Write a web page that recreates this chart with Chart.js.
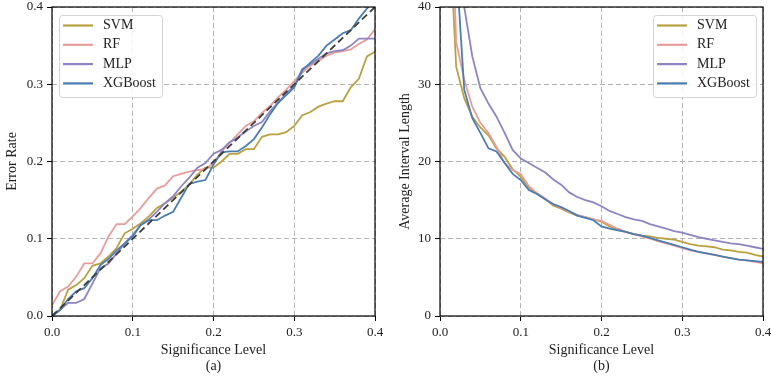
<!DOCTYPE html>
<html>
<head>
<meta charset="utf-8">
<script src="https://cdn.jsdelivr.net/npm/chart.js@4.4.0/dist/chart.umd.min.js"></script>
<style>
  body { margin: 0; background: #fff; }
  .box { position: absolute; top: 0; height: 376px; }
</style>
</head>
<body>
<div class="box" style="left:0;width:385px"><canvas id="chart-a"></canvas></div>
<div class="box" style="left:385px;width:386px"><canvas id="chart-b"></canvas></div>
<script>
const sigLevels = [0.00, 0.01, 0.02, 0.03, 0.04, 0.05, 0.06, 0.07, 0.08, 0.09,
    0.10, 0.11, 0.12, 0.13, 0.14, 0.15, 0.16, 0.17, 0.18, 0.19,
    0.20, 0.21, 0.22, 0.23, 0.24, 0.25, 0.26, 0.27, 0.28, 0.29,
    0.30, 0.31, 0.32, 0.33, 0.34, 0.35, 0.36, 0.37, 0.38, 0.39, 0.40];
const modelNames = ['SVM', 'RF', 'MLP', 'XGBoost'];
const modelColors = ['#b9a142', '#e89d9b', '#8e84c2', '#4b7db0'];

// (a) error rate
const errSVM = [0, 0.008, 0.034, 0.040, 0.049, 0.065, 0.068, 0.077, 0.088, 0.107,
    0.113, 0.120, 0.129, 0.140, 0.146, 0.153, 0.161, 0.170, 0.183, 0.192,
    0.192, 0.200, 0.210, 0.210, 0.216, 0.216, 0.232, 0.235, 0.235, 0.238,
    0.246, 0.260, 0.264, 0.271, 0.275, 0.278, 0.278, 0.296, 0.307, 0.336, 0.342];
const errRF = [0.014, 0.032, 0.038, 0.051, 0.068, 0.068, 0.081, 0.103, 0.119, 0.119,
    0.129, 0.140, 0.153, 0.165, 0.169, 0.181, 0.184, 0.187, 0.189, 0.190,
    0.198, 0.213, 0.224, 0.235, 0.246, 0.252, 0.263, 0.272, 0.283, 0.293,
    0.304, 0.315, 0.324, 0.330, 0.337, 0.341, 0.343, 0.345, 0.352, 0.358, 0.371];
const errMLP = [0, 0.008, 0.017, 0.017, 0.022, 0.042, 0.062, 0.068, 0.081, 0.094,
    0.105, 0.118, 0.125, 0.135, 0.146, 0.155, 0.168, 0.179, 0.192, 0.198,
    0.210, 0.215, 0.225, 0.231, 0.239, 0.246, 0.251, 0.265, 0.276, 0.288,
    0.298, 0.320, 0.326, 0.333, 0.340, 0.343, 0.344, 0.350, 0.359, 0.359, 0.359];
const errXGB = [0, 0.008, 0.022, 0.032, 0.036, 0.049, 0.066, 0.074, 0.085, 0.094,
    0.103, 0.118, 0.124, 0.124, 0.130, 0.135, 0.153, 0.171, 0.174, 0.176,
    0.196, 0.212, 0.213, 0.213, 0.220, 0.229, 0.244, 0.261, 0.276, 0.286,
    0.296, 0.318, 0.328, 0.337, 0.350, 0.358, 0.366, 0.370, 0.385, 0.398, 0.410];
const idealLine = [0, 0.4];

// (b) average interval length (infinite at 0)
const lenSVM = [null, 54, 32.3, 28.2, 25.8, 24.4, 23.4, 21.7, 20.6, 19.0,
    18.0, 16.6, 15.9, 15.2, 14.3, 13.9, 13.4, 13.0, 12.8, 12.5,
    12.2, 11.6, 11.2, 10.9, 10.6, 10.4, 10.3, 10.1, 10.0, 9.9,
    9.6, 9.3, 9.1, 9.0, 8.9, 8.6, 8.5, 8.3, 8.2, 7.9, 7.7];
const lenRF = [null, 68, 35.5, 30.6, 27.1, 25.0, 23.7, 21.9, 19.8, 18.9,
    18.4, 16.8, 15.9, 15.2, 14.5, 14.0, 13.5, 13.1, 12.8, 12.5,
    12.3, 11.8, 11.3, 10.9, 10.6, 10.3, 10.0, 9.7, 9.4, 9.1,
    8.8, 8.5, 8.3, 8.1, 7.9, 7.7, 7.5, 7.3, 7.2, 7.0, 6.8];
const lenMLP = [null, 90, 55, 40.0, 33.6, 29.5, 27.5, 25.8, 23.7, 21.5,
    20.4, 19.8, 19.2, 18.6, 17.7, 17.0, 16.0, 15.4, 15.0, 14.7,
    14.2, 13.6, 13.2, 12.8, 12.5, 12.3, 11.9, 11.6, 11.3, 11.0,
    10.8, 10.5, 10.2, 10.0, 9.8, 9.6, 9.4, 9.3, 9.1, 8.9, 8.7];
const lenXGB = [null, 75, 45.8, 29.3, 25.6, 23.7, 21.7, 21.3, 19.8, 18.4,
    17.6, 16.3, 15.8, 15.1, 14.5, 14.1, 13.6, 13.0, 12.7, 12.4,
    11.6, 11.3, 11.1, 10.9, 10.6, 10.4, 10.1, 9.8, 9.5, 9.2,
    8.9, 8.6, 8.3, 8.1, 7.9, 7.7, 7.5, 7.3, 7.2, 7.1, 7.0];

const serif = 'Liberation Serif';
const textColor = '#222';

// frame round the plot + legend box in the corner
const framePlugin = {
    id: 'frame',
    afterDraw(chart, args, opts) {
        const ctx = chart.ctx;
        const a = chart.chartArea;
        ctx.save();
        ctx.strokeStyle = '#000';
        ctx.lineWidth = 1.2;
        ctx.strokeRect(a.left, a.top, a.right - a.left, a.bottom - a.top);

        const w = 103, h = 82;
        const x0 = opts.side === 'right' ? a.right - 7 - w : a.left + 7;
        const y0 = a.top + 8;
        ctx.fillStyle = 'rgba(255,255,255,0.85)';
        ctx.strokeStyle = '#d4d4d4';
        ctx.lineWidth = 1;
        ctx.beginPath();
        ctx.roundRect(x0 + 0.5, y0 + 0.5, w, h, 3);
        ctx.fill();
        ctx.stroke();

        ctx.font = '14px "' + serif + '"';
        ctx.textBaseline = 'middle';
        ctx.fillStyle = textColor;
        chart.data.datasets.filter(d => d.label).forEach((d, i) => {
            const y = y0 + 10.5 + i * 19.3;
            ctx.strokeStyle = d.borderColor;
            ctx.lineWidth = 2.2;
            ctx.beginPath();
            ctx.moveTo(x0 + 4, y);
            ctx.lineTo(x0 + 34, y);
            ctx.stroke();
            ctx.fillText(d.label, x0 + 44, y);
        });
        ctx.restore();
    }
};

function points(ys) {
    return sigLevels.map((x, i) => ({ x: x, y: ys[i] }));
}

function makeSets(series) {
    return series.map((ys, i) => ({
        label: modelNames[i],
        data: points(ys),
        borderColor: modelColors[i],
        borderWidth: 1.8,
        pointRadius: 0,
        order: 4 - i
    }));
}

function zeroPad(s) {
    s.paddingLeft = 0; s.paddingRight = 0; s.paddingTop = 0; s.paddingBottom = 0;
}

function axes(yTitle, yMax, yStep, yFmt, yWidth, letter) {
    const grid = {
        color: '#b3b3b3',
        lineWidth: 1,
        tickLength: 5,
        tickColor: '#000',
        tickWidth: 1,
        tickBorderDash: []
    };
    const border = { display: false, dash: [5, 3] };
    return {
        x: {
            type: 'linear', min: 0, max: 0.4,
            ticks: { stepSize: 0.1, padding: 4, color: textColor, font: { family: serif, size: 13 },
                callback: v => v.toFixed(1) },
            grid: grid, border: border,
            title: { display: true, text: ['Significance Level', '(' + letter + ')'], color: textColor,
                font: { family: serif, size: 14, lineHeight: 1.15 }, padding: { top: 4, bottom: 2 } },
            afterFit: s => { s.height = 60; zeroPad(s); }
        },
        y: {
            type: 'linear', min: 0, max: yMax,
            ticks: { stepSize: yStep, padding: 4, color: textColor, font: { family: serif, size: 13 },
                callback: yFmt },
            grid: grid, border: border,
            title: { display: true, text: yTitle, color: textColor,
                font: { family: serif, size: 14, lineHeight: 1.2 }, padding: { top: 4, bottom: 4 } },
            afterFit: s => { s.width = yWidth; zeroPad(s); }
        }
    };
}

const setsA = makeSets([errSVM, errRF, errMLP, errXGB]);
setsA.push({
    label: '',
    data: [{ x: idealLine[0], y: idealLine[0] }, { x: idealLine[1], y: idealLine[1] }],
    borderColor: '#3d3d3d',
    borderWidth: 1.8,
    borderDash: [7, 4],
    pointRadius: 0,
    order: 0
});

new Chart(document.getElementById('chart-a'), {
    type: 'line',
    data: { datasets: setsA },
    options: {
        responsive: true,
        maintainAspectRatio: false,
        animation: false,
        layout: { padding: { top: 7, right: 10, left: 0, bottom: 0 } },
        scales: axes('Error Rate', 0.4, 0.1, v => v.toFixed(1), 52, 'a'),
        plugins: { legend: { display: false }, tooltip: { enabled: false }, frame: { side: 'left' } }
    },
    plugins: [framePlugin]
});

new Chart(document.getElementById('chart-b'), {
    type: 'line',
    data: { datasets: makeSets([lenSVM, lenRF, lenMLP, lenXGB]) },
    options: {
        responsive: true,
        maintainAspectRatio: false,
        animation: false,
        layout: { padding: { top: 7, right: 8, left: 8, bottom: 0 } },
        scales: axes('Average Interval Length', 40, 10, v => String(v), 47, 'b'),
        plugins: { legend: { display: false }, tooltip: { enabled: false }, frame: { side: 'right' } }
    },
    plugins: [framePlugin]
});
</script>
</body>
</html>
